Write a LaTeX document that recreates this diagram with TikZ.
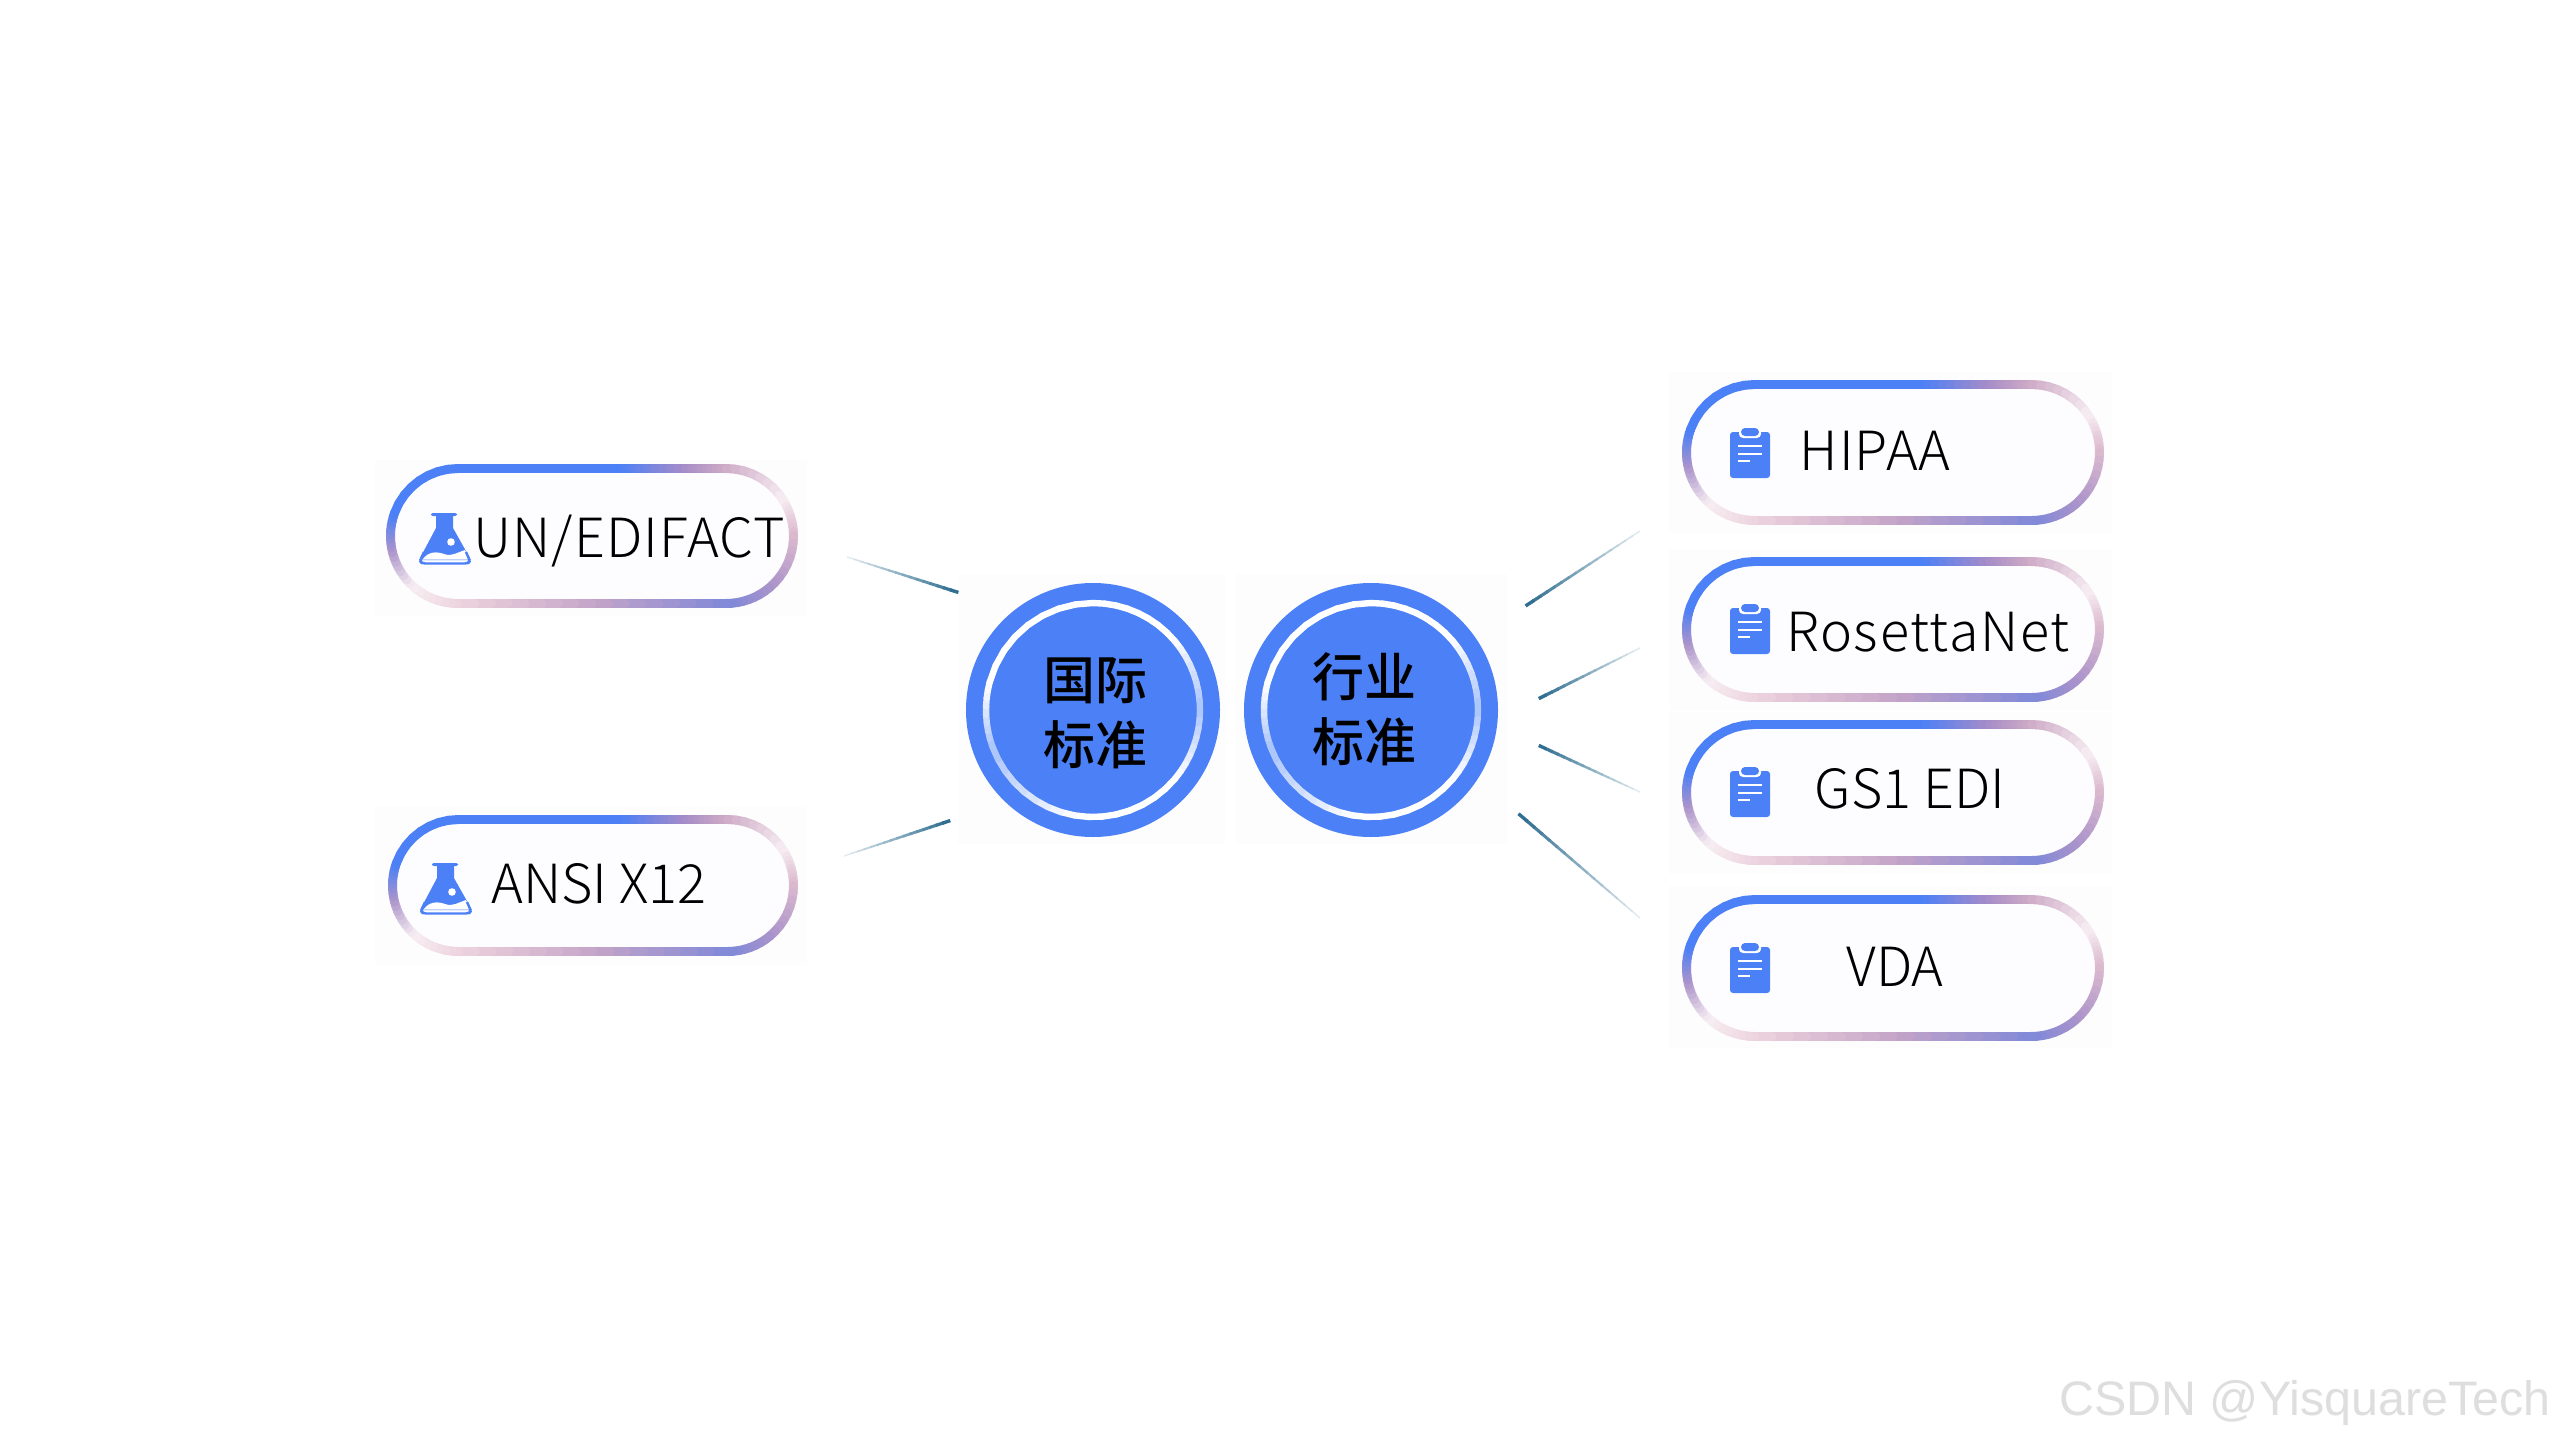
\documentclass[tikz,border=0pt]{standalone}
\usepackage{fontspec}
\usetikzlibrary{calc,shapes.misc}
\newfontfamily\latinlight{Noto Sans CJK SC Light}
\newfontfamily\latinlightA[LetterSpace=2]{Noto Sans CJK SC Light}
\newfontfamily\latinlightB[LetterSpace=3.3]{Noto Sans CJK SC Light}
\newfontfamily\cjkmed{Noto Sans CJK SC Medium}
\newfontfamily\wmfont{Liberation Sans}
\definecolor{mainblue}{HTML}{4C80F6}
\definecolor{cA}{HTML}{A58CC8}
\definecolor{cB}{HTML}{CDA9C6}
\definecolor{cC}{HTML}{F7EEF2}
\definecolor{cD}{HTML}{DDBBCF}
\definecolor{cE}{HTML}{AC94CB}
\definecolor{cF}{HTML}{7F88D8}
\definecolor{cG}{HTML}{EDD2DD}
\definecolor{cH}{HTML}{C4A4C8}
\definecolor{cI}{HTML}{A9C3FB}
\definecolor{panelc}{HTML}{FDFDFE}
\definecolor{pillc}{HTML}{FDFDFF}
\definecolor{connd}{HTML}{2A6B8E}
\definecolor{connl}{HTML}{E6EFF2}
\newcommand{\ringarc}[7]{%
  \foreach \ii in {0,...,7}{%
    \pgfmathsetmacro\anga{#4+(#5-(#4))*\ii/8}%
    \pgfmathsetmacro\angb{#4+(#5-(#4))*(\ii+1)/8}%
    \pgfmathsetmacro\pct{100*(\ii+.5)/8}%
    \draw[ringline,draw=#7!\pct!#6] ({#1+#3*cos(\anga)},{#2-#3*sin(\anga)}) -- ({#1+#3*cos(\angb)},{#2-#3*sin(\angb)});
  }}
\newcommand{\ringstraight}[5]{% x0 x1 y colA colB
  \foreach \ii in {0,...,7}{%
    \pgfmathsetmacro\xa{#1+(#2-(#1))*\ii/8}%
    \pgfmathsetmacro\xb{#1+(#2-(#1))*(\ii+1)/8}%
    \pgfmathsetmacro\pct{100*(\ii+.5)/8}%
    \draw[ringline,draw=#5!\pct!#4] (\xa,#3) -- (\xb,#3);
  }}
\newcommand{\pillring}[4]{% left top right bottom of outer edge
  \pgfmathsetmacro\ry{(#4-#2)/2-4.5}%
  \pgfmathsetmacro\cyy{(#4+#2)/2}%
  \pgfmathsetmacro\xl{#1+4.5+\ry}%
  \pgfmathsetmacro\xr{#3-4.5-\ry}%
  \pgfmathsetmacro\yt{#2+4.5}%
  \pgfmathsetmacro\yb{#4-4.5}%
  \draw[ringline,draw=mainblue] (\xl,\yt) -- ({\xl+0.62*(\xr-\xl)},\yt);
  \ringstraight{\xl+0.62*(\xr-\xl)}{\xl+0.85*(\xr-\xl)}{\yt}{mainblue}{cA}
  \ringstraight{\xl+0.85*(\xr-\xl)}{\xr}{\yt}{cA}{cB}
  \ringarc{\xr}{\cyy}{\ry}{90}{30}{cB}{cC}
  \ringarc{\xr}{\cyy}{\ry}{30}{0}{cC}{cD}
  \ringarc{\xr}{\cyy}{\ry}{0}{-50}{cD}{cE}
  \ringarc{\xr}{\cyy}{\ry}{-50}{-90}{cE}{cF}
  \ringstraight{\xr}{\xl+0.5*(\xr-\xl)}{\yb}{cF}{cH}
  \ringstraight{\xl+0.5*(\xr-\xl)}{\xl}{\yb}{cH}{cG}
  \ringarc{\xl}{\cyy}{\ry}{270}{225}{cG}{cC}
  \ringarc{\xl}{\cyy}{\ry}{225}{190}{cC}{cE}
  \ringarc{\xl}{\cyy}{\ry}{190}{160}{cE}{mainblue}
  \ringarc{\xl}{\cyy}{\ry}{160}{90}{mainblue}{mainblue}
}
\newcommand{\fadeconn}[2]{% light end, dark end
  \foreach \ii in {0,...,15}{%
    \pgfmathsetmacro\ta{\ii/16}%
    \pgfmathsetmacro\tb{(\ii+1.2)/16}%
    \pgfmathsetmacro\pct{100*(\ii+.5)/16}%
    \pgfmathsetmacro\lw{0.7+1.0*\ii/15}%
    \draw[draw=connd!\pct!connl,line width=\lw pt] ($(#1)!\ta!(#2)$) -- ($(#1)!\tb!(#2)$);
  }}
\newcommand{\flask}[2]{%
  \begin{scope}[shift={(#1,#2)}]
    \fill[mainblue,rounded corners=1pt] (-14,-25) rectangle (12,-22);
    \fill[mainblue] (-9,-23) -- (8,-23) -- (8,-10) -- (26,22) -- (-26,22) -- (-9,-10) -- cycle;
    \fill[white] (-22,21) .. controls (-17,14) and (-9,13) .. (-1,16) .. controls (7,19) and (13,14) .. (20,12) -- (24,21.5) -- (-24,21.5) -- cycle;
    \draw[mainblue,line width=1.2pt,rounded corners=1.5pt,line join=round] (-21,14) -- (-25,23) -- (-23,25.5) -- (23,25.5) -- (25,23) -- (21,14);
    \fill[white] (6,4) circle (3.8);
  \end{scope}}
\newcommand{\clipboard}[2]{%
  \begin{scope}[shift={(#1,#2)}]
    \fill[mainblue,rounded corners=1.5pt] (-20,-21) rectangle (20,25);
    \fill[white,rounded corners=2pt] (-11,-27) rectangle (11,-15);
    \fill[mainblue,rounded corners=2pt] (-9,-25) rectangle (9,-17);
    \draw[white,line width=.9pt] (-12,-7) -- (12,-7) (-12,1) -- (12,1) (-12,8) -- (0,8);
  \end{scope}}
\tikzset{
  x=0.5pt,y=-0.5pt,
  ringline/.style={line width=4.5pt,line cap=round},
  panelbox/.style={fill=panelc,draw=none,inner sep=0pt},
  pillbody/.style={rounded rectangle,fill=pillc,draw=none,inner sep=0pt},
  pilltext/.style={font=\latinlight\fontsize{27}{30}\selectfont,text=black,inner sep=0pt},
  discnode/.style={circle,fill=mainblue,draw=none,minimum size=127pt,inner sep=0pt},
  disctext/.style={font=\cjkmed\fontsize{26}{32.5}\selectfont,text=black,align=center,inner sep=0pt},
  watermark/.style={font=\wmfont\fontsize{24.2}{28}\selectfont,text=black!13,inner sep=0pt,anchor=base east},
}
\begin{document}
\begin{tikzpicture}
\useasboundingbox (0,0) rectangle (2555,1440);
\fill[white] (0,0) rectangle (2555,1440);
% faint panels
\foreach \nm/\pl/\pt/\pr/\pb in {p1/375/460/807/616,p2/375/807/807/965,p3/958/574/1225/844,p4/1235/574/1507/844,p5/1669/372/2112/533,p6/1669/549/2112/711,p7/1669/712/2112/874,p8/1669/886/2112/1048}{
  \pgfmathsetmacro\pwd{(\pr-\pl)/2}\pgfmathsetmacro\pht{(\pb-\pt)/2}
  \node[panelbox,minimum width=\pwd pt,minimum height=\pht pt] (\nm) at ({(\pl+\pr)/2},{(\pt+\pb)/2}) {};
}
% pills
\node[pillbody,minimum width=206pt,minimum height=72pt] (un) at (592,536) {};
\node[pillbody,minimum width=205pt,minimum height=70.5pt] (ansi) at (593,885.5) {};
\node[pillbody,minimum width=211pt,minimum height=72.5pt] (hipaa) at (1893,452.5) {};
\node[pillbody,minimum width=211pt,minimum height=72.5pt] (rosetta) at (1893,629.5) {};
\node[pillbody,minimum width=211pt,minimum height=72.5pt] (gs) at (1893,792.5) {};
\node[pillbody,minimum width=211pt,minimum height=73pt] (vda) at (1893,968) {};
\pillring{386}{464}{798}{608}
\pillring{388}{815}{798}{956}
\pillring{1682}{380}{2104}{525}
\pillring{1682}{557}{2104}{702}
\pillring{1682}{720}{2104}{865}
\pillring{1682}{895}{2104}{1041}
% icons
\flask{445}{538}
\flask{446}{888}
\clipboard{1750}{453}
\clipboard{1750}{629}
\clipboard{1750}{792}
\clipboard{1750}{968}
% labels
\node[pilltext,font=\latinlightA\fontsize{27}{30}\selectfont] (untxt) at (629,541) {UN/EDIFACT};
\node[pilltext] (ansitxt) at (599,884) {ANSI X12};
\node[pilltext,font=\latinlightA\fontsize{27}{30}\selectfont] (hipaatxt) at (1875,451) {HIPAA};
\node[pilltext,font=\latinlightB\fontsize{27}{30}\selectfont] (rosettatxt) at (1928,632) {RosettaNet};
\node[pilltext] (gstxt) at (1910,789) {GS1 EDI};
\node[pilltext] (vdatxt) at (1895,967) {VDA};
% discs
\node[discnode] (intl) at (1093,710) {};
\node[discnode] (ind) at (1371,710) {};
\tikzset{ringline/.style={line width=3.2pt,line cap=round}}
\foreach \ccx in {1093,1371}{
  \ringarc{\ccx}{710}{107}{90}{40}{white}{white}
  \ringarc{\ccx}{710}{107}{40}{0}{white}{cI}
  \ringarc{\ccx}{710}{107}{0}{-40}{cI}{white}
  \ringarc{\ccx}{710}{107}{-40}{-100}{white}{white}
  \ringarc{\ccx}{710}{107}{-100}{-160}{white}{cI}
  \ringarc{\ccx}{710}{107}{-160}{-195}{cI}{white}
  \ringarc{\ccx}{710}{107}{-195}{-270}{white}{white}
}
\node[disctext] (intltxt) at (1095,713) {国际\\标准};
\node[disctext] (indtxt) at (1364,709) {行业\\标准};
% connectors
\coordinate (a1) at (847,557);  \coordinate (b1) at (957,592);
\coordinate (a2) at (844,856);  \coordinate (b2) at (949,821);
\coordinate (a3) at (1640,531); \coordinate (b3) at (1527,605);
\coordinate (a4) at (1640,648); \coordinate (b4) at (1540,698);
\coordinate (a5) at (1640,792); \coordinate (b5) at (1540,746);
\coordinate (a6) at (1640,918); \coordinate (b6) at (1520,815);
\fadeconn{a1}{b1}
\fadeconn{a2}{b2}
\fadeconn{a3}{b3}
\fadeconn{a4}{b4}
\fadeconn{a5}{b5}
\fadeconn{a6}{b6}
% watermark
\node[watermark] (wm) at (2551,1415) {CSDN @YisquareTech};
\end{tikzpicture}
\end{document}
